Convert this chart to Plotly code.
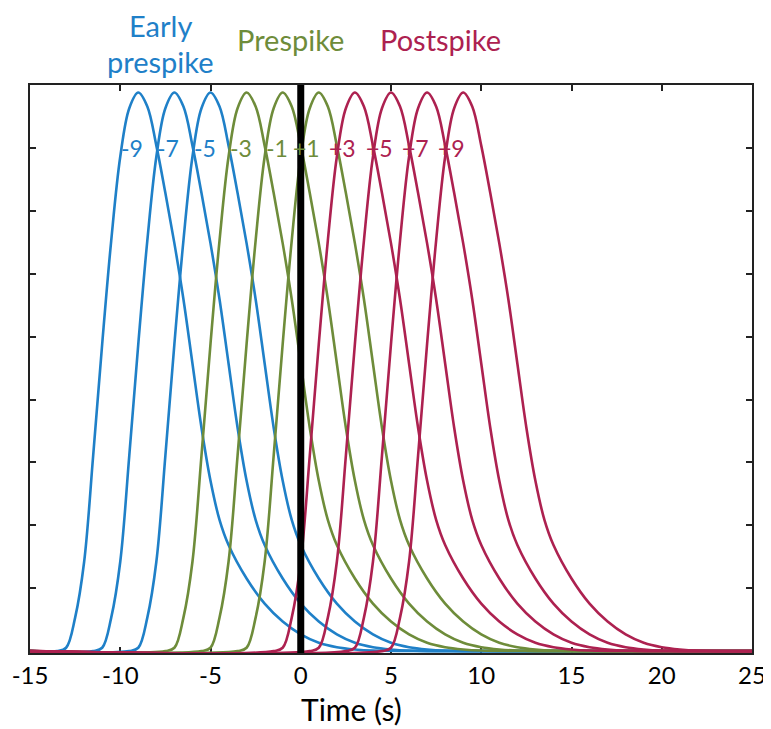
import plotly.graph_objects as go

# Response-curve shape: time relative to peak (s) and fraction of peak height
shape_t = [-4.5, -4.0, -3.5, -3.0, -2.5, -2.0, -1.5, -1.0, -0.5, 0.0,
           0.5, 1.0, 1.5, 2.0, 2.5, 3.0, 3.5, 4.0, 4.5, 5.0, 6.0, 7.0, 8.0, 9.0, 10.0, 11.0, 12.0, 13.0, 16.0]
shape_v = [0.0, 0.006, 0.06, 0.16, 0.35, 0.55, 0.735, 0.885, 0.972, 1.0,
           0.975, 0.905, 0.82, 0.73, 0.63, 0.515, 0.40, 0.305, 0.235, 0.19, 0.13, 0.085, 0.053, 0.03, 0.015,
           0.007, 0.003, 0.001, 0.0]
peak_height = 8.88  # in y-tick units (9 tick intervals span the frame)

peaks = [-9, -7, -5, -3, -1, 1, 3, 5, 7, 9]
groups = ["early", "early", "early", "pre", "pre", "pre", "post", "post", "post", "post"]
peak_labels = ["-9", "-7", "-5", "-3", "-1", "+1", "+3", "+5", "+7", "+9"]

x_tickvals = [-15, -10, -5, 0, 5, 10, 15, 20, 25]
x_ticktext = ["-15", "-10", "-5", "0", "5", "10", "15", "20", "25"]
y_tickvals = [1, 2, 3, 4, 5, 6, 7, 8]

title_early = ["Early", "prespike"]
title_pre = "Prespike"
title_post = "Postspike"

colors = {"early": "#1f80c8", "pre": "#6e8c3a", "post": "#ad2150"}
FONT = "Lato"

# page body has an ~8px margin; figure sized so the plot frame lands where the reference has it
OFF = 8
W, H = 771 - OFF, 729 - OFF
L, R, T, B = 30 - OFF, 771 - 752, 85 - OFF, 729 - 653
PW, PH = W - L - R, H - T - B

fig = go.Figure()
for p, g in zip(peaks, groups):
    xs = [-15] + [p + t for t in shape_t]
    ys = [0.0] + [v * peak_height for v in shape_v]
    if xs[-1] < 25:
        xs.append(25)
        ys.append(0.0)
    fig.add_trace(go.Scatter(x=xs, y=ys, mode="lines",
                             line=dict(color=colors[g], width=2.6, shape="spline", smoothing=1.0),
                             showlegend=False, hoverinfo="skip"))

# thick zero line
fig.add_trace(go.Scatter(x=[0, 0], y=[-0.1, 9.1], mode="lines",
                         line=dict(color="black", width=7), showlegend=False, hoverinfo="skip"))

for p, g, lab in zip(peaks, groups, peak_labels):
    fig.add_annotation(x=p, y=8, text=lab, showarrow=False, xanchor="center", yanchor="middle",
                       xshift=-12 if lab.startswith("+") else -6,
                       font=dict(family=FONT, size=23, color=colors[g]))


def px(xabs):
    return (xabs - 30) / PW


def py(yabs):
    return (653 - yabs) / PH


fig.add_annotation(xref="paper", yref="paper", x=px(160), y=py(26),
                   text=title_early[0], showarrow=False, xanchor="center", yanchor="middle",
                   font=dict(family=FONT, size=29, color=colors["early"]))
fig.add_annotation(xref="paper", yref="paper", x=px(160), y=py(61),
                   text=title_early[1], showarrow=False, xanchor="center", yanchor="middle",
                   font=dict(family=FONT, size=29, color=colors["early"]))
fig.add_annotation(xref="paper", yref="paper", x=px(290), y=py(39),
                   text=title_pre, showarrow=False, xanchor="center", yanchor="middle",
                   font=dict(family=FONT, size=29, color=colors["pre"]))
fig.add_annotation(xref="paper", yref="paper", x=px(440), y=py(39),
                   text=title_post, showarrow=False, xanchor="center", yanchor="middle",
                   font=dict(family=FONT, size=29, color=colors["post"]))

# axis title
fig.add_annotation(xref="paper", yref="paper", x=px(351), y=py(709),
                   text="Time (s)", showarrow=False, xanchor="center", yanchor="middle",
                   font=dict(family=FONT, size=30, color="black"))

fig.update_xaxes(range=[-15, 25], tickvals=x_tickvals, ticktext=x_ticktext,
                 ticks="inside", ticklen=6, tickwidth=2, tickcolor="#222",
                 showline=True, linecolor="#222", linewidth=2, mirror="ticks",
                 showgrid=False, zeroline=False, layer="below traces", automargin=False,
                 tickfont=dict(family=FONT, size=24, color="black"))
fig.update_yaxes(range=[-0.03, 9], tickvals=y_tickvals, showticklabels=False,
                 ticks="inside", ticklen=6, tickwidth=2, tickcolor="#222",
                 showline=True, linecolor="#222", linewidth=2, mirror="ticks",
                 showgrid=False, zeroline=False, layer="below traces", automargin=False)

fig.update_layout(width=W, height=H, plot_bgcolor="white", paper_bgcolor="white",
                  margin=dict(l=L, r=R, t=T, b=B), showlegend=False)

fig.write_html("out.html")
